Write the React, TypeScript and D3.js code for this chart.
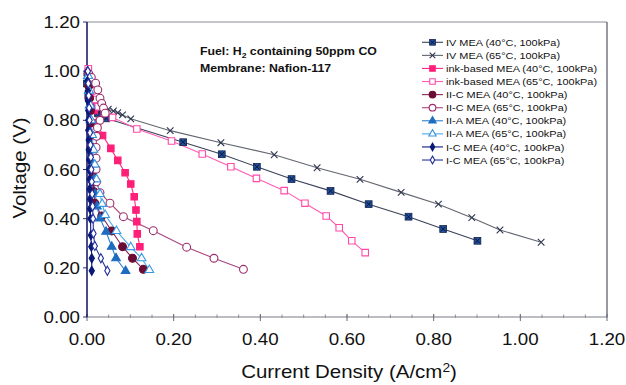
import React from 'react';
import * as d3 from 'd3';

type Pt = [number, number];

const xTickValues = [0, 0.2, 0.4, 0.6, 0.8, 1.0, 1.2];
const yTickValues = [0, 0.2, 0.4, 0.6, 0.8, 1.0, 1.2];

const ivMea40: Pt[] = [[0.0,0.95],[0.003,0.9],[0.008,0.87],[0.015,0.848],[0.025,0.83],[0.035,0.818],[0.044,0.808],[0.222,0.711],[0.311,0.662],[0.392,0.611],[0.472,0.561],[0.562,0.513],[0.65,0.459],[0.742,0.408],[0.822,0.358],[0.901,0.31]];
const ivMea65: Pt[] = [[0.0,0.97],[0.003,0.93],[0.008,0.9],[0.015,0.875],[0.025,0.862],[0.036,0.852],[0.049,0.845],[0.061,0.838],[0.071,0.831],[0.082,0.822],[0.101,0.806],[0.192,0.758],[0.309,0.709],[0.432,0.66],[0.531,0.607],[0.63,0.56],[0.725,0.507],[0.811,0.459],[0.888,0.404],[0.953,0.354],[1.048,0.304]];
const ink40: Pt[] = [[0.003,1.0],[0.006,0.96],[0.009,0.92],[0.012,0.88],[0.017,0.84],[0.024,0.79],[0.036,0.738],[0.055,0.686],[0.071,0.637],[0.088,0.587],[0.101,0.541],[0.109,0.489],[0.113,0.435],[0.115,0.388],[0.116,0.338],[0.122,0.286]];
const ink65: Pt[] = [[0.003,1.01],[0.007,0.96],[0.012,0.92],[0.018,0.885],[0.026,0.855],[0.04,0.83],[0.059,0.812],[0.115,0.765],[0.195,0.716],[0.266,0.663],[0.332,0.611],[0.391,0.564],[0.455,0.514],[0.503,0.463],[0.552,0.411],[0.582,0.363],[0.611,0.31],[0.642,0.262]];
const iiC40: Pt[] = [[0.002,0.99],[0.004,0.94],[0.006,0.89],[0.008,0.84],[0.009,0.79],[0.01,0.74],[0.011,0.69],[0.012,0.64],[0.013,0.59],[0.014,0.55],[0.016,0.51],[0.018,0.463],[0.034,0.411],[0.057,0.35],[0.082,0.286],[0.105,0.239],[0.13,0.194]];
const iiC65: Pt[] = [[0.004,0.99],[0.01,0.975],[0.02,0.951],[0.025,0.924],[0.03,0.89],[0.034,0.869],[0.038,0.85],[0.042,0.829],[0.03,0.8],[0.024,0.77],[0.022,0.735],[0.021,0.69],[0.021,0.646],[0.021,0.601],[0.022,0.55],[0.03,0.506],[0.053,0.463],[0.084,0.408],[0.153,0.351],[0.23,0.284],[0.293,0.239],[0.361,0.194]];
const iiA40: Pt[] = [[0.002,0.98],[0.004,0.92],[0.006,0.86],[0.008,0.8],[0.01,0.74],[0.012,0.68],[0.014,0.62],[0.016,0.56],[0.019,0.5],[0.023,0.45],[0.03,0.401],[0.044,0.347],[0.057,0.286],[0.067,0.239],[0.089,0.187]];
const iiA65: Pt[] = [[0.003,0.98],[0.005,0.92],[0.008,0.86],[0.01,0.8],[0.012,0.74],[0.015,0.68],[0.018,0.62],[0.022,0.56],[0.03,0.5],[0.035,0.46],[0.042,0.415],[0.068,0.35],[0.101,0.284],[0.126,0.239],[0.144,0.191]];
const iC40: Pt[] = [[0.001,1.0],[0.001,0.96],[0.002,0.92],[0.002,0.88],[0.003,0.84],[0.003,0.8],[0.003,0.76],[0.004,0.72],[0.004,0.68],[0.005,0.64],[0.005,0.6],[0.006,0.56],[0.006,0.52],[0.007,0.48],[0.007,0.44],[0.008,0.4],[0.009,0.333],[0.01,0.286],[0.011,0.239],[0.011,0.188]];
const iC65: Pt[] = [[0.002,1.0],[0.003,0.95],[0.004,0.9],[0.005,0.85],[0.006,0.8],[0.007,0.75],[0.008,0.7],[0.009,0.65],[0.01,0.6],[0.011,0.55],[0.012,0.5],[0.013,0.45],[0.014,0.4],[0.015,0.34],[0.018,0.289],[0.032,0.239],[0.047,0.188]];

const legendLabels = [
  'IV MEA (40°C, 100kPa)',
  'IV MEA (65°C, 100kPa)',
  'ink-based MEA (40°C, 100kPa)',
  'ink-based MEA (65°C, 100kPa)',
  'II-C MEA (40°C, 100kPa)',
  'II-C MEA (65°C, 100kPa)',
  'II-A MEA (40°C, 100kPa)',
  'II-A MEA (65°C, 100kPa)',
  'I-C MEA (40°C, 100kPa)',
  'I-C MEA (65°C, 100kPa)',
];

type Marker = 'sqx' | 'x' | 'square' | 'circle' | 'triangle' | 'diamond';
interface Series { data: Pt[]; color: string; markerColor: string; marker: Marker; filled: boolean; }

const series: Series[] = [
  { data: ivMea40, color: '#3a4258', markerColor: '#1f4f9e', marker: 'sqx', filled: true },
  { data: ivMea65, color: '#62666f', markerColor: '#2f3550', marker: 'x', filled: false },
  { data: ink40, color: '#ff2a80', markerColor: '#ff1f78', marker: 'square', filled: true },
  { data: ink65, color: '#ff5cb4', markerColor: '#ff4aa8', marker: 'square', filled: false },
  { data: iiC40, color: '#8c2456', markerColor: '#6a0c34', marker: 'circle', filled: true },
  { data: iiC65, color: '#a8467e', markerColor: '#9c2c6c', marker: 'circle', filled: false },
  { data: iiA40, color: '#2d7fd0', markerColor: '#1e6cc0', marker: 'triangle', filled: true },
  { data: iiA65, color: '#4aa6e6', markerColor: '#3a98e0', marker: 'triangle', filled: false },
  { data: iC40, color: '#0c1a82', markerColor: '#0a1878', marker: 'diamond', filled: true },
  { data: iC65, color: '#26349c', markerColor: '#22309a', marker: 'diamond', filled: false },
];

const W = 626, H = 385;
const L = 87, R = 607, T = 22, B = 317;
const SX = 1.15;

const x = d3.scaleLinear().domain([0, 1.2]).range([L, R]);
const y = d3.scaleLinear().domain([0, 1.2]).range([B, T]);
const line = d3.line<Pt>().x(d => x(d[0])).y(d => y(d[1]));

function MarkerShape({ m, cx, cy, stroke, filled, small }: { m: Marker; cx: number; cy: number; stroke: string; filled: boolean; small?: boolean }) {
  const k = small ? 0.85 : 1;
  if (m === 'x') {
    const s = 3.3 * k;
    return <path d={`M${cx - s},${cy - s}L${cx + s},${cy + s}M${cx - s},${cy + s}L${cx + s},${cy - s}`} stroke={stroke} strokeWidth={1.1} fill="none" />;
  }
  if (m === 'sqx') {
    const s = 3.4 * k;
    return (
      <g>
        <rect x={cx - s} y={cy - s} width={2 * s} height={2 * s} fill={stroke} stroke="#13234d" strokeWidth={0.8} />
        <path d={`M${cx - s + 1},${cy - s + 1}L${cx + s - 1},${cy + s - 1}M${cx - s + 1},${cy + s - 1}L${cx + s - 1},${cy - s + 1}`} stroke="#0c1530" strokeWidth={1} />
      </g>
    );
  }
  const sizes: Record<string, number> = { square: 42, circle: 48, triangle: 32, diamond: 24 };
  const types: Record<string, d3.SymbolType> = { square: d3.symbolSquare, circle: d3.symbolCircle, triangle: d3.symbolTriangle, diamond: d3.symbolDiamond };
  const p = d3.symbol().type(types[m]).size(sizes[m] * k * k)();
  return <path d={p || ''} transform={`translate(${cx},${cy})`} fill={filled ? stroke : '#fff'} stroke={stroke} strokeWidth={1.1} />;
}

function SText({ x0, y0, anchor, size, weight, children, rotate }: any) {
  const tr = `translate(${x0},${y0})${rotate ? ` rotate(${rotate})` : ''} scale(${SX},1)`;
  return (
    <text transform={tr} textAnchor={anchor || 'start'} fontSize={size} fontWeight={weight || 'normal'} fontFamily="'Liberation Sans', Arial, sans-serif" fill="#111">
      {children}
    </text>
  );
}

export default function App() {
  const minorTicks = x.ticks(24);
  const legendX0 = 422, legendX1 = 443, legendTextX = 446;
  const legendY0 = 42.3, legendDy = 13.08;
  return (
    <svg width={W} height={H} style={{ position: 'absolute', left: 0, top: 0, background: '#fff' }}>
      <rect x={0} y={0} width={W} height={H} fill="#fff" />
      {/* frame */}
      <line x1={L} x2={R} y1={T} y2={T} stroke="#8a8c96" strokeWidth={1} />
      <line x1={R} x2={R} y1={T} y2={B} stroke="#50546a" strokeWidth={1.2} />
      <line x1={L} x2={R} y1={B} y2={B} stroke="#7a7c86" strokeWidth={1.2} />
      {minorTicks.map((t, i) => (
        <line key={'mx' + i} x1={x(t)} x2={x(t)} y1={B - 2.5} y2={B + 1} stroke="#8a8c96" strokeWidth={1} />
      ))}
      {xTickValues.map((t, i) => (
        <line key={'tx' + i} x1={x(t)} x2={x(t)} y1={B - 3} y2={B + 4} stroke="#6a6c76" strokeWidth={1} />
      ))}
      {yTickValues.map((t, i) => (
        <line key={'ty' + i} x1={L - 4} x2={L} y1={y(t)} y2={y(t)} stroke="#30346a" strokeWidth={1} />
      ))}
      <line x1={L} x2={L} y1={T} y2={B} stroke="#1b1f6b" strokeWidth={1.6} />

      {/* tick labels */}
      {yTickValues.map((t, i) => (
        <SText key={'ly' + i} x0={80} y0={y(t) + 6} anchor="end" size={16.3}>{t.toFixed(2)}</SText>
      ))}
      {xTickValues.map((t, i) => (
        <SText key={'lx' + i} x0={x(t)} y0={345} anchor="middle" size={16.3}>{t.toFixed(2)}</SText>
      ))}
      <SText x0={349} y0={378} anchor="middle" size={17.8}>Current Density (A/cm<tspan fontSize={12} dy={-6}>2</tspan><tspan dy={6}>)</tspan></SText>
      <SText x0={26} y0={168} anchor="middle" size={17.8} rotate={-90}>Voltage (V)</SText>

      {/* annotation */}
      <SText x0={200} y0={55} size={10.7} weight="bold">Fuel: H<tspan fontSize={7.5} dy={2.5}>2</tspan><tspan dy={-2.5}> containing 50ppm CO</tspan></SText>
      <SText x0={200} y0={71.5} size={10.7} weight="bold">Membrane: Nafion-117</SText>

      {/* series lines */}
      {series.map((s, i) => (
        <path key={'ln' + i} d={line(s.data) || ''} fill="none" stroke={s.color} strokeWidth={1.1} />
      ))}
      {/* markers */}
      {series.map((s, i) => (
        <g key={'mk' + i}>
          {s.data.map((d, j) => (
            <MarkerShape key={j} m={s.marker} cx={x(d[0])} cy={y(d[1])} stroke={s.markerColor} filled={s.filled} />
          ))}
        </g>
      ))}

      {/* legend */}
      {series.map((s, i) => {
        const ly = legendY0 + i * legendDy;
        return (
          <g key={'lg' + i}>
            <line x1={legendX0} x2={legendX1} y1={ly} y2={ly} stroke={s.color} strokeWidth={1.1} />
            <MarkerShape m={s.marker} cx={(legendX0 + legendX1) / 2} cy={ly} stroke={s.markerColor} filled={s.filled} small />
            <SText x0={legendTextX} y0={ly + 3.6} size={9.5}>{legendLabels[i]}</SText>
          </g>
        );
      })}
    </svg>
  );
}
